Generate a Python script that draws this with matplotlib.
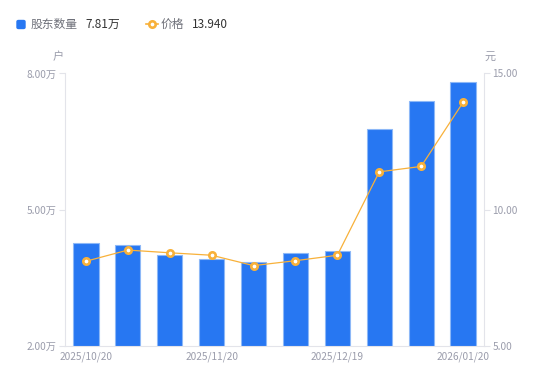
import numpy as np
import matplotlib
matplotlib.use('Agg')
import matplotlib.pyplot as plt
import matplotlib.patches as mpatches
from matplotlib.lines import Line2D

plt.rcParams['font.family'] = ['Noto Sans CJK SC', 'DejaVu Sans']

# ── Data ───────────────────────────────────────────────────────────────────
dates = ['2025/10/20', '2025/10/31', '2025/11/10', '2025/11/20', '2025/11/28',
         '2025/12/10', '2025/12/19', '2025/12/31', '2026/01/09', '2026/01/20']
holders = [4.27, 4.23, 4.00, 3.91, 3.86, 4.04, 4.09, 6.78, 7.40, 7.81]   # 万户
price = [8.11, 8.52, 8.42, 8.33, 7.95, 8.13, 8.33, 11.39, 11.59, 13.94]  # 元
label_idx = [0, 3, 6, 9]

BLUE = '#2777F2'
EDGE = '#8DB8F7'
ORANGE = '#F8B13A'
GRAY = '#9A9CAB'
AXC = '#E3E4EA'

fig = plt.figure(figsize=(5.5, 3.81), dpi=100)
fig.patch.set_facecolor('white')
ax = fig.add_axes([0.1182, 0.0919, 0.7618, 0.7152])
ax2 = ax.twinx()

x = np.arange(len(dates))
ax.bar(x, holders, width=0.6, color=BLUE, edgecolor=EDGE, linewidth=0.8, zorder=2)
ax.set_xlim(-0.5, len(dates) - 0.5)
ax.set_ylim(2, 8)
ax.set_yticks([2, 5, 8])
ax.set_yticklabels(['2.00万', '5.00万', '8.00万'])

ax2.plot(x, price, color=ORANGE, lw=0.9, marker='o', markersize=4.6,
         markerfacecolor='white', markeredgecolor=ORANGE, markeredgewidth=1.9, zorder=3)
ax2.set_ylim(5, 15)
ax2.set_yticks([5, 10, 15])
ax2.set_yticklabels(['5.00', '10.00', '15.00'])

ax.set_xticks(label_idx)
ax.set_xticklabels([dates[i] for i in label_idx])

for a in (ax, ax2):
    for s in a.spines.values():
        s.set_visible(False)
    a.tick_params(colors=AXC, labelcolor=GRAY, labelsize=7.3, length=4, width=0.8)
ax.spines['left'].set_visible(True)
ax.spines['left'].set_color(AXC)
ax.spines['bottom'].set_visible(True)
ax.spines['bottom'].set_color(AXC)
ax2.spines['right'].set_visible(True)
ax2.spines['right'].set_color(AXC)
ax.tick_params(axis='x', length=0, pad=4)
ax.tick_params(axis='y', pad=2)
ax2.tick_params(axis='y', pad=2)

# axis units
fig.text(58 / 550, 1 - 57 / 381, '户', fontsize=8, color=GRAY, ha='center', va='center')
fig.text(490 / 550, 1 - 57 / 381, '元', fontsize=8, color=GRAY, ha='center', va='center')

# legend at top
ly = 1 - 24 / 381
fig.add_artist(mpatches.FancyBboxPatch((17 / 550, 1 - 28.5 / 381), 8 / 550, 8 / 381,
                                       boxstyle='round,pad=0,rounding_size=0.003',
                                       transform=fig.transFigure, color=BLUE))
fig.text(31 / 550, ly, '股东数量', fontsize=8.5, color='#6E7079', va='center')
fig.text(85 / 550, ly, '7.81万', fontsize=8.5, color='#333333', va='center')
fig.add_artist(Line2D([146 / 550, 158 / 550], [ly, ly], transform=fig.transFigure,
                      color=ORANGE, lw=1.2))
fig.add_artist(Line2D([152 / 550], [ly], transform=fig.transFigure, marker='o',
                      markersize=4.6, markerfacecolor='white', markeredgecolor=ORANGE,
                      markeredgewidth=1.9))
fig.text(161 / 550, ly, '价格', fontsize=8.5, color='#6E7079', va='center')
fig.text(192 / 550, ly, '13.940', fontsize=8.5, color='#333333', va='center')

fig.savefig('out.png', dpi=100, facecolor='white')
